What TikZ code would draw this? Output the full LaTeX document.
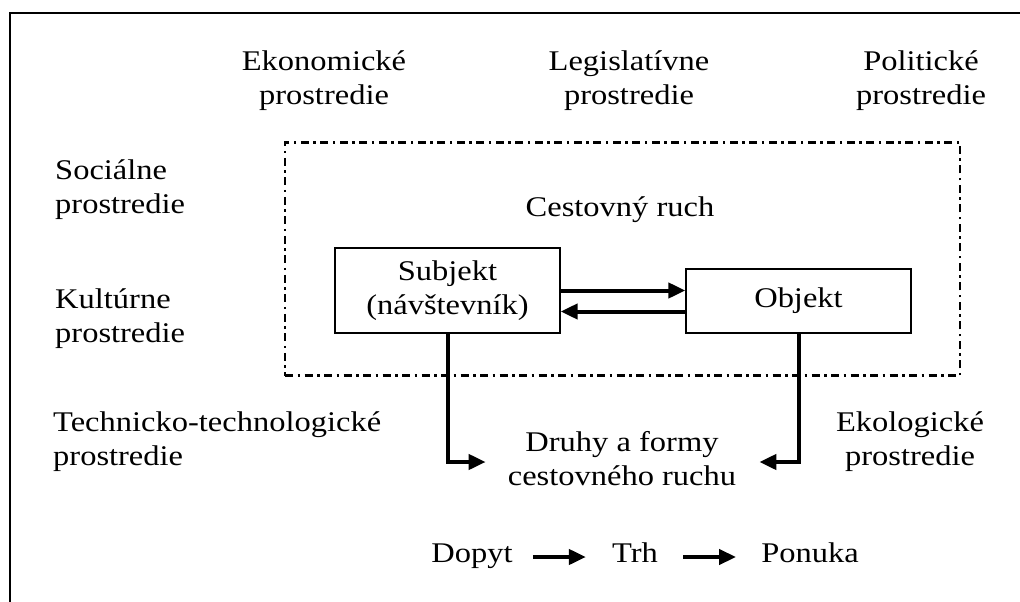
\documentclass[tikz,border=0pt]{standalone}
\usepackage{fontspec}
\setmainfont{Liberation Serif}[FakeStretch=1.14]
\usetikzlibrary{arrows.meta}
\newcommand{\dfont}{\fontsize{28.5}{34}\selectfont}
\tikzset{
  txt/.style={inner sep=0pt, align=center, font=\dfont},
  ltxt/.style={inner sep=0pt, align=left, anchor=west, font=\dfont},
  boxnode/.style={draw, line width=1.2pt, inner sep=0pt, align=center, font=\dfont},
  bar/.style={line width=4pt, -{Triangle[length=17pt,width=15pt]}},
  dashdot box/.style={line width=2.6pt, dash pattern=on 8pt off 4.5pt on 2.5pt off 4.5pt},
  frame/.style={line width=2pt}
}
\begin{document}
\begin{tikzpicture}[x=1pt,y=-1pt]
\useasboundingbox (0,0) rectangle (1020,602);
\draw[frame] (1020,13) -- (10,13) -- (10,602);

% environment labels
\node[txt] (eko) at (324,81) {\strut Ekonomické\\\strut prostredie};
\node[txt] (leg) at (629,81) {\strut Legislatívne\\\strut prostredie};
\node[txt] (pol) at (921,81) {\strut Politické\\\strut prostredie};
\node[ltxt] (soc) at (55,190) {\strut Sociálne\\\strut prostredie};
\node[ltxt] (kul) at (55,319) {\strut Kultúrne\\\strut prostredie};
\node[ltxt] (tech) at (53,442) {\strut Technicko-technologické\\\strut prostredie};
\node[txt] (eko2) at (910,442) {\strut Ekologické\\\strut prostredie};

% tourism box
\node[draw, dashdot box, minimum width=675pt, minimum height=233.5pt, inner sep=0pt] (ruchbox) at (622.5,259) {};
\node[txt, anchor=base] (ruch) at (620,216) {Cestovný ruch};

\node[boxnode, minimum width=225pt, minimum height=85pt] (subjekt) at (447.5,290.5) {\strut Subjekt\\\strut (návštevník)};
\node[boxnode, minimum width=225pt, minimum height=64pt] (objekt) at (798.5,301) {Objekt};

\draw[bar] (subjekt.east) -- (subjekt.east -| objekt.west);
\draw[bar] ([yshift=-21pt]subjekt.east -| objekt.west) -- ([yshift=-21pt]subjekt.east);

\node[txt] (druhy) at (622,462) {\strut Druhy a formy\\\strut cestovného ruchu};
\draw[bar, shorten >=22pt] (subjekt.south) |- (druhy.west);
\draw[bar, shorten >=23pt] (objekt.south) |- (druhy.east);

% market line
\node[txt, anchor=base] (dopyt) at (472,562) {Dopyt};
\node[txt, anchor=base] (trh) at (635,562) {Trh};
\node[txt, anchor=base] (ponuka) at (810,562) {Ponuka};
\draw[bar, shorten <=20pt, shorten >=26pt] ([yshift=5pt]dopyt.base east) -- ([yshift=5pt]trh.base west);
\draw[bar, shorten <=25pt, shorten >=25pt] ([yshift=5pt]trh.base east) -- ([yshift=5pt]ponuka.base west);
\end{tikzpicture}
\end{document}
